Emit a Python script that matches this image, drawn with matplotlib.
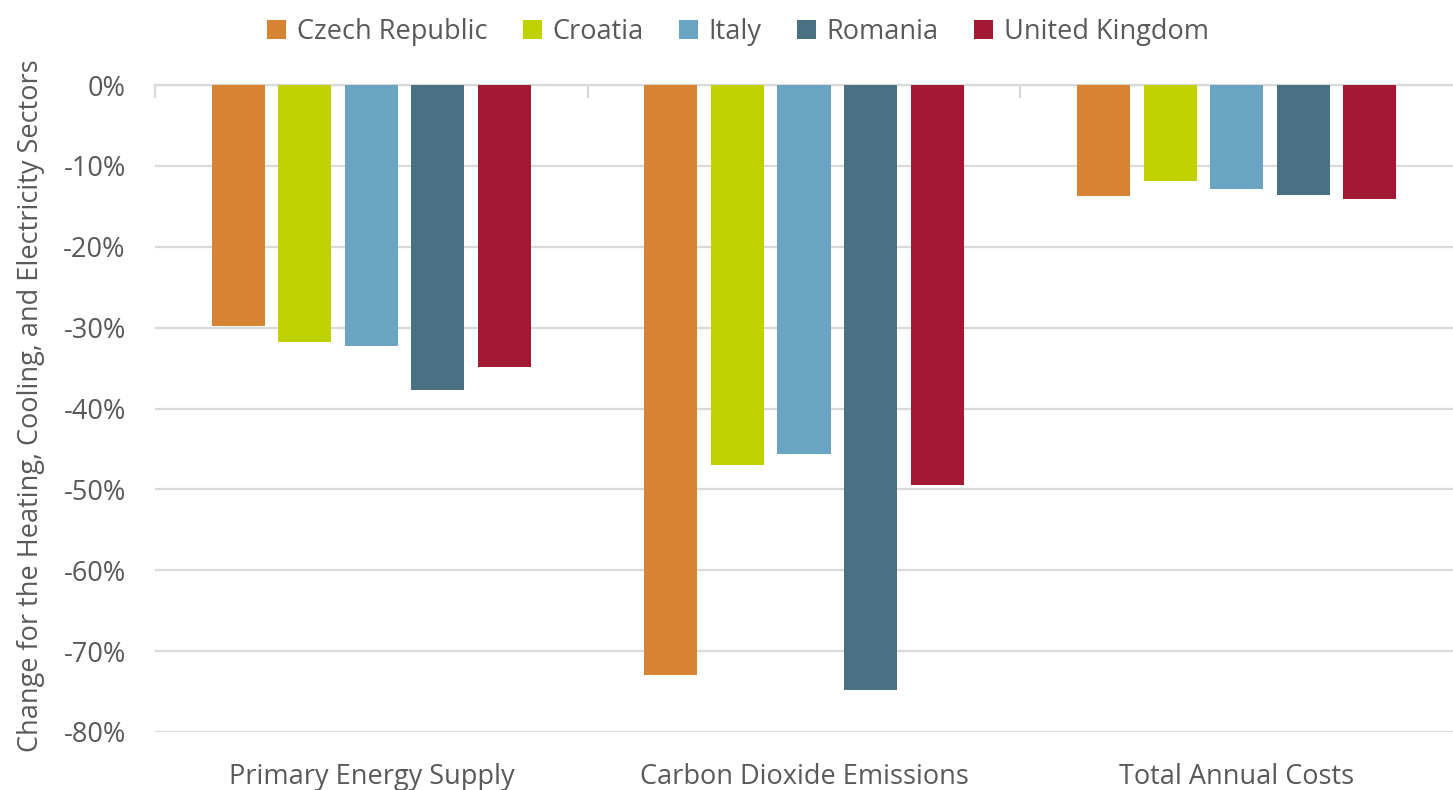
import numpy as np
import matplotlib
matplotlib.use('Agg')
import matplotlib.pyplot as plt
from matplotlib.patches import Patch

plt.rcParams['font.family'] = ['Open Sans', 'DejaVu Sans']

#%% Data: change vs reference scenario (fraction)
categories = ['Primary Energy Supply', 'Carbon Dioxide Emissions', 'Total Annual Costs']
countries = ['Czech Republic', 'Croatia', 'Italy', 'Romania', 'United Kingdom']
czech = [-0.298, -0.729, -0.137]
croatia = [-0.318, -0.470, -0.119]
italy = [-0.323, -0.456, -0.129]
romania = [-0.377, -0.748, -0.136]
uk = [-0.349, -0.494, -0.141]
series = [czech, croatia, italy, romania, uk]
colors = ['#D68434', '#BFD200', '#69A4C2', '#4A7083', '#A31934']
yticks = [0, -0.1, -0.2, -0.3, -0.4, -0.5, -0.6, -0.7, -0.8]

grey = '#595959'
gridc = '#D9D9D9'
fs = 19.5

#%% Plot
fig = plt.figure(figsize=(14.53, 7.9), dpi=100)
ax = fig.add_axes([155/1453, 1-732/790, 1-155/1453, (732-85)/790])

x = np.arange(len(categories))
step = 0.154
width = 0.1225
for i, vals in enumerate(series):
    ax.bar(x + (i-2)*step, vals, width, color=colors[i], zorder=3)

ax.set_xlim(-0.5, 2.5)
ax.set_ylim(-0.8, 0)
ax.set_yticks(yticks)
ax.set_yticklabels(['%d%%' % round(v*100) for v in yticks])
ax.yaxis.grid(True, color=gridc, linewidth=1.6, zorder=0)
for s in ['left', 'right', 'bottom']:
    ax.spines[s].set_visible(False)
ax.spines['top'].set_color(gridc)
ax.spines['top'].set_linewidth(1.6)

ax.set_xticks(x)
ax.set_xticklabels(categories)
ax.set_xticks([-0.5, 0.5, 1.5], minor=True)
ax.tick_params(axis='x', which='major', length=0, pad=22, labelsize=fs, labelcolor=grey)
ax.tick_params(axis='x', which='minor', top=True, bottom=False, direction='in',
               length=9, width=1.6, color=gridc)
ax.tick_params(axis='y', length=0, pad=21, labelsize=fs, labelcolor=grey)

fig.text(0.021, (790-406)/790, 'Change for the Heating, Cooling, and Electricity Sectors',
         rotation=90, ha='center', va='center', fontsize=fs, color=grey)

handles = [Patch(facecolor=c, edgecolor='none') for c in colors]
fig.legend(handles, countries, loc='upper center', bbox_to_anchor=(0.508, 1.008), ncol=5,
           frameon=False, fontsize=fs, labelcolor=grey, handlelength=0.7, handleheight=0.7,
           handletextpad=0.4, columnspacing=1.3)

plt.savefig('out.png', dpi=100)
